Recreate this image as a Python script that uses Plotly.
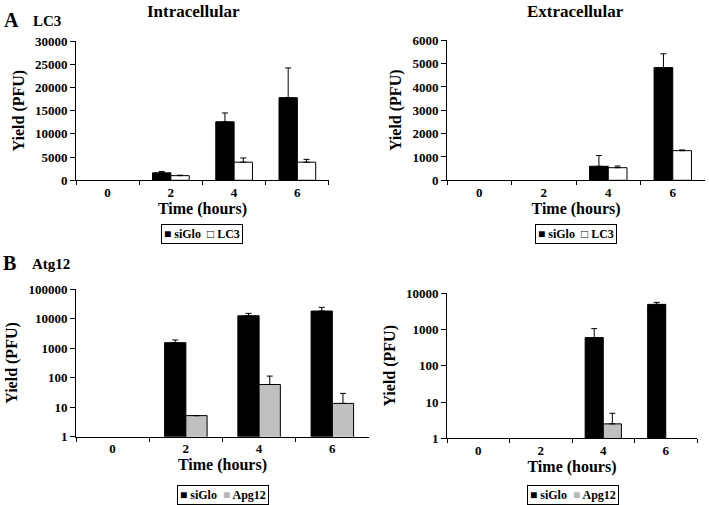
import plotly.graph_objects as go

hours = ["0", "2", "4", "6"]

# Panel A - LC3, intracellular (linear)
a_in_siglo = [0, 1600, 12600, 17800]
a_in_siglo_err = [0, 300, 1900, 6400]
a_in_lc3 = [0, 1000, 3900, 3900]
a_in_lc3_err = [0, 100, 900, 600]

# Panel A - LC3, extracellular (linear)
a_ex_siglo = [0, 0, 600, 4830]
a_ex_siglo_err = [0, 0, 460, 590]
a_ex_lc3 = [0, 0, 540, 1270]
a_ex_lc3_err = [0, 0, 70, 30]

# Panel B - Atg12, intracellular (log)
b_in_siglo = [None, 1550, 12700, 18300]
b_in_siglo_err = [0, 360, 2600, 6100]
b_in_apg12 = [None, 5.2, 59, 13.5]
b_in_apg12_err = [0, 0, 55, 16]

# Panel B - Atg12, extracellular (log)
b_ex_siglo = [None, None, 600, 4950]
b_ex_siglo_err = [0, 0, 460, 670]
b_ex_apg12 = [None, None, 2.5, None]
b_ex_apg12_err = [0, 0, 2.4, 0]

log_in_ticks = [1, 10, 100, 1000, 10000, 100000]
log_ex_ticks = [1, 10, 100, 1000, 10000]

FONT = '"Liberation Serif", "Times New Roman", Times, serif'
BLACK = "#000000"
GRAY = "#c0c0c0"

def err(arr):
    return dict(type="data", array=arr, arrayminus=[0] * len(arr), symmetric=False,
                color=BLACK, thickness=1, width=3)

def bar(name, y, e, color, xa, ya):
    # a zero-height bar is invisible; skip it so no error cap is drawn on the axis
    y_plot = [None if (v is None or v == 0) else v for v in y]
    return go.Bar(x=hours, y=y_plot, name=name,
                  marker=dict(color=color, line=dict(color=BLACK, width=1)),
                  error_y=err(e), xaxis=xa, yaxis=ya, showlegend=False)

fig = go.Figure()
fig.add_trace(bar("siGlo", a_in_siglo, a_in_siglo_err, BLACK, "x", "y"))
fig.add_trace(bar("LC3", a_in_lc3, a_in_lc3_err, "#ffffff", "x", "y"))
fig.add_trace(bar("siGlo", a_ex_siglo, a_ex_siglo_err, BLACK, "x2", "y2"))
fig.add_trace(bar("LC3", a_ex_lc3, a_ex_lc3_err, "#ffffff", "x2", "y2"))
fig.add_trace(bar("siGlo", b_in_siglo, b_in_siglo_err, BLACK, "x3", "y3"))
fig.add_trace(bar("Apg12", b_in_apg12, b_in_apg12_err, GRAY, "x3", "y3"))
fig.add_trace(bar("siGlo", b_ex_siglo, b_ex_siglo_err, BLACK, "x4", "y4"))
fig.add_trace(bar("Apg12", b_ex_apg12, b_ex_apg12_err, GRAY, "x4", "y4"))

tickfont = dict(family=FONT, size=13, color=BLACK, weight="bold")
titlefont = dict(family=FONT, size=16, color=BLACK, weight="bold")

def xax(domain, anchor):
    return dict(domain=domain, anchor=anchor, type="category", showline=True, linecolor=BLACK,
                linewidth=1, ticks="outside", tickson="boundaries", ticklen=4, tickcolor=BLACK,
                tickfont=tickfont, showgrid=False, zeroline=False, automargin=False,
                title=dict(text="Time (hours)", font=titlefont, standoff=2))

def yax(domain, anchor, **kw):
    d = dict(domain=domain, anchor=anchor, showline=True, linecolor=BLACK, linewidth=1,
             ticks="outside", ticklen=5, tickcolor=BLACK, tickfont=tickfont, showgrid=False,
             zeroline=False, automargin=False,
             title=dict(text="Yield (PFU)", font=titlefont, standoff=6))
    d.update(kw)
    return d

fig.update_layout(
    width=709, height=505, autosize=False, margin=dict(l=0, r=0, t=0, b=0, pad=0),
    paper_bgcolor="white", plot_bgcolor="white",
    barmode="group", bargap=0.42, bargroupgap=0,
    xaxis=xax([0.1072, 0.4640], "y"),
    yaxis=yax([0.6430, 0.9188], "x", range=[0, 30000], dtick=5000, tickformat="d"),
    xaxis2=xax([0.6305, 0.9944], "y2"),
    yaxis2=yax([0.6430, 0.9202], "x2", range=[0, 6000], dtick=1000, tickformat="d"),
    xaxis3=xax([0.1072, 0.5204], "y3"),
    yaxis3=yax([0.1352, 0.4271], "x3", type="log", range=[0, 5], tickmode="array",
               tickvals=log_in_ticks, ticktext=[str(v) for v in log_in_ticks]),
    xaxis4=xax([0.6305, 0.9831], "y4"),
    yaxis4=yax([0.1321, 0.4192], "x4", type="log", range=[0, 4], tickmode="array",
               tickvals=log_ex_ticks, ticktext=[str(v) for v in log_ex_ticks]),
)

def ann(text, x, y, size, xanchor="center", box=False):
    kw = dict(bordercolor=BLACK, borderwidth=1, borderpad=2, bgcolor="white") if box else {}
    fig.add_annotation(text=text, x=x, y=y, xref="paper", yref="paper", showarrow=False,
                       xanchor=xanchor, yanchor="middle",
                       font=dict(family=FONT, size=size, color=BLACK, weight="bold"), **kw)

ann("Intracellular", 193 / 709, 1 - 11 / 505, 17)
ann("Extracellular", 575 / 709, 1 - 11 / 505, 17)
ann("A", 2 / 709, 1 - 20 / 505, 20, "left")
ann("LC3", 31 / 709, 1 - 21 / 505, 15, "left")
ann("B", 1 / 709, 1 - 263 / 505, 20, "left")
ann("Atg12", 30 / 709, 1 - 264 / 505, 15, "left")

# legends (real text; swatches as square glyphs)
leg_lc3 = "■ siGlo  □ LC3"
leg_apg = '■ siGlo  <span style="color:#b8b8b8">■</span> Apg12'
ann(leg_lc3, 201.5 / 709, 1 - 234 / 505, 12, box=True)
ann(leg_apg, 222.5 / 709, 1 - 495 / 505, 12, box=True)
ann(leg_lc3, 575.5 / 709, 1 - 234 / 505, 12, box=True)
ann(leg_apg, 572.5 / 709, 1 - 495 / 505, 12, box=True)

fig.write_html("out.html", config={"displayModeBar": False},
               post_script="document.body.style.margin='0';document.body.style.overflow='hidden';")
